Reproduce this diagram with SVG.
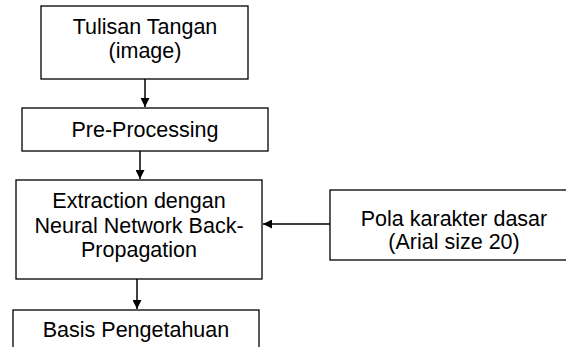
<svg xmlns="http://www.w3.org/2000/svg" width="566" height="347" viewBox="0 0 566 347">
<style>
.box{fill:#fff;stroke:#000;stroke-width:1.3}
.t{font-family:"Liberation Sans",Arial,sans-serif;font-size:21.5px;fill:#000;text-anchor:middle}
.c{stroke:#000;stroke-width:1.5;fill:none}
</style>
<defs>
<marker id="ah" viewBox="0 0 10 10" refX="10" refY="5" markerWidth="6.5" markerHeight="6" markerUnits="strokeWidth" orient="auto">
<path d="M0,0 L10,5 L0,10 z" fill="#000"/>
</marker>
</defs>
<rect width="566" height="347" fill="#fff"/>
<g id="n1">
<rect class="box" x="41" y="6" width="207" height="73"/>
<text class="t" x="145" y="34">Tulisan Tangan</text>
<text class="t" x="145" y="58">(image)</text>
</g>
<g id="n2">
<rect class="box" x="22" y="108" width="246" height="43"/>
<text class="t" x="145" y="137">Pre-Processing</text>
</g>
<g id="n3">
<rect class="box" x="16" y="180" width="246" height="99"/>
<text class="t" x="139" y="208">Extraction dengan</text>
<text class="t" x="139" y="233">Neural Network Back-</text>
<text class="t" x="139" y="257">Propagation</text>
</g>
<g id="n4">
<rect class="box" x="13" y="310" width="246" height="60"/>
<text class="t" x="136" y="337">Basis Pengetahuan</text>
</g>
<g id="n5">
<rect class="box" x="330" y="190" width="248" height="70"/>
<text class="t" x="454" y="226">Pola karakter dasar</text>
<text class="t" x="454" y="249">(Arial size 20)</text>
</g>
<g id="connectors">
<line class="c" x1="145" y1="79" x2="145" y2="107" marker-end="url(#ah)"/>
<line class="c" x1="140" y1="151" x2="140" y2="179" marker-end="url(#ah)"/>
<line class="c" x1="137" y1="279" x2="137" y2="309" marker-end="url(#ah)"/>
<line class="c" x1="330" y1="224" x2="263" y2="224" marker-end="url(#ah)"/>
</g>
</svg>
